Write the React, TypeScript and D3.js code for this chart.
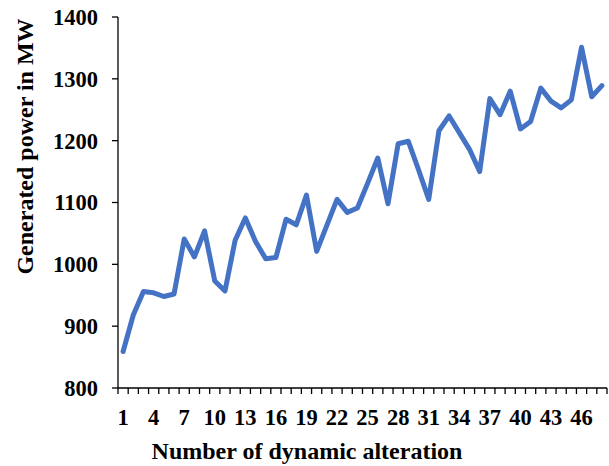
import React from "react";
import * as d3 from "d3";

const categories: number[] = Array.from({ length: 48 }, (_, i) => i + 1);
const powerValues: number[] = [
  859, 918, 956, 954, 948, 952, 1041, 1012, 1054, 973, 957, 1039, 1075, 1037, 1009, 1011,
  1073, 1064, 1112, 1021, 1063, 1105, 1084, 1091, 1131, 1172, 1098, 1195, 1199, 1153, 1105, 1216,
  1240, 1213, 1186, 1150, 1268, 1242, 1280, 1219, 1231, 1285, 1264, 1253, 1266, 1351, 1271, 1289,
];
const xTickLabels: number[] = [1, 4, 7, 10, 13, 16, 19, 22, 25, 28, 31, 34, 37, 40, 43, 46];
const yTicks: number[] = [800, 900, 1000, 1100, 1200, 1300, 1400];
const xTitle = "Number of dynamic alteration";
const yTitle = "Generated power in MW";

const W = 609;
const H = 466;
const left = 118;
const right = 607;
const top = 17;
const bottom = 388;
const font = "'Liberation Serif', 'Times New Roman', serif";

export default function App() {
  const x = d3.scaleBand<number>().domain(categories).range([left, right]).paddingInner(0).paddingOuter(0);
  const bw = x.bandwidth();
  const cx = (c: number) => (x(c) as number) + bw / 2;
  const y = d3.scaleLinear().domain([800, 1400]).range([bottom, top]);

  const line = d3
    .line<number>()
    .x((_, i) => cx(categories[i]))
    .y((d) => y(d));

  const boundaries = [...categories.map((c) => x(c) as number), right];

  return (
    <svg
      width={W}
      height={H}
      style={{ position: "absolute", left: 0, top: 0, background: "#fff" }}
      fontFamily={font}
      fontWeight="bold"
    >
      <rect width={W} height={H} fill="#fff" />
      <line x1={left} x2={left} y1={top} y2={bottom} stroke="#000" strokeWidth={1.3} />
      <line x1={left} x2={right} y1={bottom} y2={bottom} stroke="#000" strokeWidth={1.3} />
      {yTicks.map((t) => (
        <g key={t}>
          <line x1={left - 6} x2={left} y1={y(t)} y2={y(t)} stroke="#000" strokeWidth={1.3} />
          <text x={98} y={y(t)} dy="0.35em" textAnchor="end" fontSize={22.5} fill="#000">
            {t}
          </text>
        </g>
      ))}
      {boundaries.map((b, i) => (
        <line key={i} x1={b} x2={b} y1={bottom} y2={bottom + 6} stroke="#000" strokeWidth={1.3} />
      ))}
      {xTickLabels.map((c) => (
        <text key={c} x={cx(c)} y={425} textAnchor="middle" fontSize={22.5} fill="#000">
          {c}
        </text>
      ))}
      <text x={307} y={459} textAnchor="middle" fontSize={24} fill="#000">
        {xTitle}
      </text>
      <text
        transform={`translate(33,146.5) rotate(-90)`}
        textAnchor="middle"
        fontSize={24}
        fill="#000"
      >
        {yTitle}
      </text>
      <path
        d={line(powerValues) || ""}
        fill="none"
        stroke="#4472C4"
        strokeWidth={5}
        strokeLinejoin="round"
        strokeLinecap="round"
      />
    </svg>
  );
}
